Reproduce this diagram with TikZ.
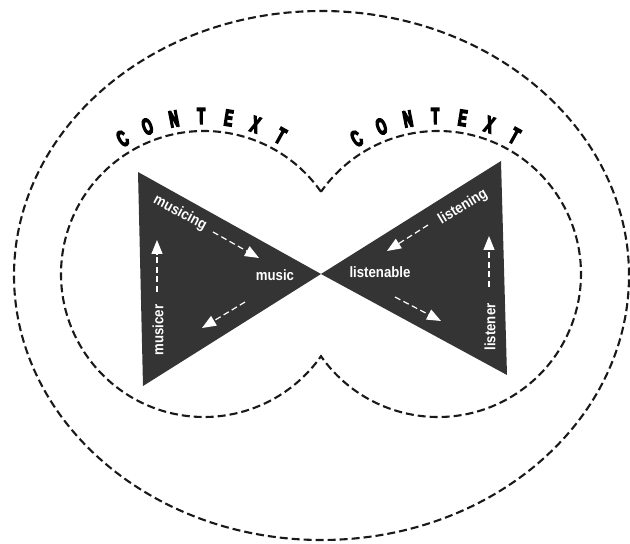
\documentclass[tikz,border=0pt]{standalone}
\usepackage{fontspec}
\setmainfont{Liberation Sans}
\newfontfamily\lblfont[FakeStretch=0.88]{Liberation Sans}
\newfontfamily\ctxfont[FakeStretch=0.55,FakeBold=6]{Liberation Sans}
\usetikzlibrary{arrows.meta}
\definecolor{trigray}{RGB}{52,52,52}
\begin{document}
\begin{tikzpicture}[x=1pt,y=1pt,
  boundary/.style={draw=black!90, line width=2.1pt, dash pattern=on 8pt off 4pt},
  tri/.style={fill=trigray, draw=none},
  lbl/.style={text=white, font=\lblfont\bfseries\fontsize{15}{15}\selectfont, inner sep=1pt},
  ctx/.style={font=\ctxfont\bfseries\fontsize{23}{23}\selectfont, inner sep=0pt},
  flow/.style={draw=white, line width=1.2pt, dash pattern=on 6pt off 3.5pt,
    -{Triangle[length=14pt,width=11pt,fill=white]}}]
\useasboundingbox (0,0) rectangle (630,544);
% outer context
\draw[boundary] (321.5,268.5) ellipse [x radius=307.5, y radius=264.5];
% inner double lobe
\draw[boundary] (204,270) ++(35.1:143)
  arc[start angle=35.1, end angle=324.9, radius=143]
  arc[start angle=215.1, end angle=504.9, radius=143] -- cycle;
% triangles
\fill[tri] (138,372) -- (143,158) -- (321,270) -- cycle;
\fill[tri] (501,383) -- (507,169) -- (321,270) -- cycle;
% labels
\node[lbl, rotate=-28] (musicing) at (180,331) {musicing};
\node[lbl] (music) at (275,269) {music};
\node[lbl, rotate=90] (musicer) at (158,214) {musicer};
\node[lbl, rotate=31] (listening) at (463,337) {listening};
\node[lbl] (listenable) at (380,272) {listenable};
\node[lbl, rotate=90] (listener) at (490,217) {listener};
% arrow ends
\coordinate (a1s) at (213,312); \coordinate (a1e) at (259,286);
\coordinate (a2s) at (245,242); \coordinate (a2e) at (202,216);
\coordinate (a3s) at (157,252); \coordinate (a3e) at (157,304);
\coordinate (b1s) at (428,319); \coordinate (b1e) at (387,293);
\coordinate (b2s) at (395,247); \coordinate (b2e) at (441,223);
\coordinate (b3s) at (489,257); \coordinate (b3e) at (489,308);
\draw[flow] (a1s) -- (a1e);
\draw[flow] (a2s) -- (a2e);
\draw[flow] (a3s) -- (a3e);
\draw[flow] (b1s) -- (b1e);
\draw[flow] (b2s) -- (b2e);
\draw[flow] (b3s) -- (b3e);
% CONTEXT lettering
\foreach \ch [count=\i from 0] in {C,O,N,T,E,X,T} {
  \pgfmathsetmacro\ang{121-10*\i}
  \path (204,270) ++(\ang:158) node[ctx, rotate=\ang-90] (cl\i) {\ch};
  \path (438,270) ++(\ang:158) node[ctx, rotate=\ang-90] (cr\i) {\ch};
}
\end{tikzpicture}
\end{document}
